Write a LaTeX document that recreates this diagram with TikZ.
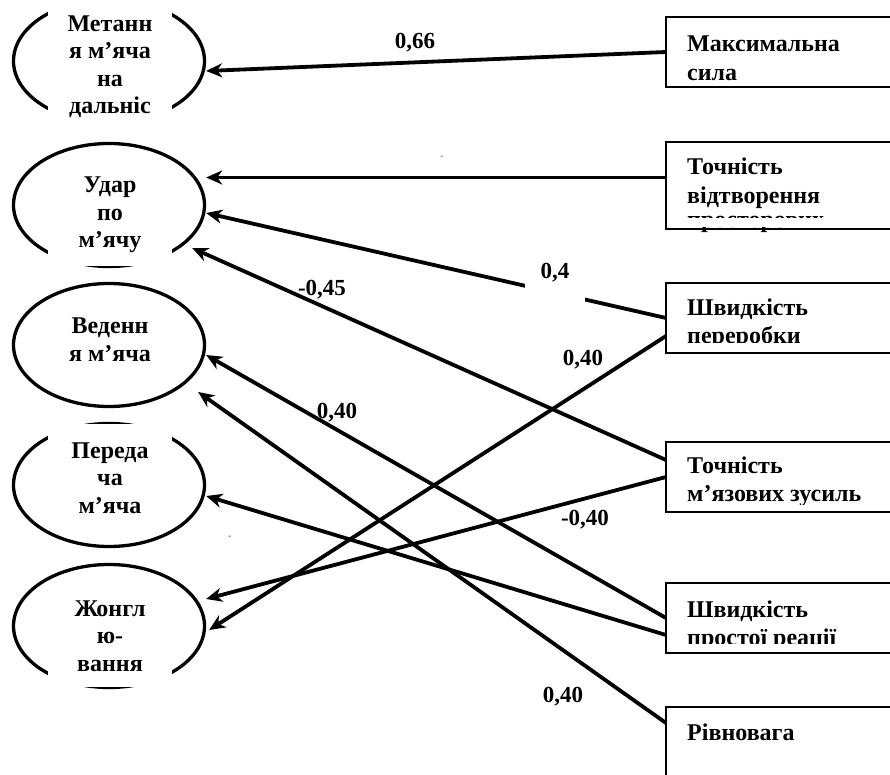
\documentclass[tikz,border=0pt]{standalone}
\usepackage{fontspec}
\setmainfont{Liberation Serif}
\usetikzlibrary{arrows.meta,shapes.geometric}

\begin{document}
\begin{tikzpicture}[x=1pt,y=-1pt,
    effect/.style={ellipse,draw,line width=3.3pt,minimum width=191pt,
                   minimum height=123pt,inner sep=0pt},
    mask/.style={fill=white,minimum width=124pt,inner sep=0pt},
    efftext/.style={align=center,inner sep=0pt,anchor=base,
                    font=\fontsize{24}{27.5}\selectfont\bfseries},
    factor/.style={draw,line width=2.4pt,anchor=north west,minimum width=260pt,
                   minimum height=70pt,inner sep=0pt,outer sep=0pt},
    facttext/.style={align=left,inner sep=0pt,anchor=base west,
                     font=\fontsize{24}{28.5}\selectfont\bfseries},
    coef/.style={inner sep=0pt,font=\fontsize{23}{23}\selectfont\bfseries},
    arr/.style={-{Stealth[length=16pt,width=14pt,inset=5pt]},line width=3.8pt}
  ]
    \useasboundingbox (0,0) rectangle (890,775);
    \clip (0,0) rectangle (890,775);

    \node[effect] (throw)   at (109,61)  {};
    \node[effect] (kick)    at (109,205) {};
    \node[effect] (dribble) at (109,345) {};
    \node[effect] (pass)    at (109,485) {};
    \node[effect] (juggle)  at (109,626) {};

    \node[mask,minimum height=134pt] (throwmask)  at (110,61)    {};
    \node[mask,minimum height=101pt] (kickmask)   at (110,215.5) {};
    \node[mask,minimum height=104pt] (passmask)   at (110,476)   {};
    \node[mask,minimum height=104pt] (jugglemask) at (110,635)   {};

    \node[efftext] (throwtext)   at (110,114) {Метанн\\я м’яча\\на\\дальніс};
    \node[efftext] (kicktext)    at (110,248) {Удар\\по\\м’ячу};
    \node[efftext] (dribbletext) at (110,361) {Веденн\\я м’яча};
    \node[efftext] (passtext)    at (110,513) {Переда\\ча\\м’яча};
    \node[efftext] (juggletext)  at (110,671) {Жонгл\\ю-\\вання};

    \node[factor] (maxforce)                     at (666,17)  {};
    \node[factor,minimum height=87pt] (spacerep) at (666,142) {};
    \node[factor] (procspeed)                    at (666,283) {};
    \node[factor] (musclepr)                     at (666,442) {};
    \node[factor] (reaction)                     at (666,583) {};
    \node[factor] (balance)                      at (666,707) {};

    \node[facttext] (maxforcetext)  at (687,80.5)  {Максимальна\\сила};
    \node[facttext] (spacereptext)  at (687,228)   {Точність\\відтворення\\[-4pt]просторових};
    \node[facttext] (procspeedtext) at (687,343.5) {Швидкість\\переробки};
    \node[facttext] (muscleprtext)  at (687,501.5) {Точність\\м’язових зусиль};
    \node[facttext] (reactiontext)  at (687,645.5) {Швидкість\\простої реації};
    \node[facttext] (balancetext)   at (687,740)   {Рівновага};

    \foreach \b/\h in {spacerep/10.5,procspeed/10,musclepr/7,reaction/9}
      \fill[white] ([shift={(1.5,-1.5)}]\b.south west) rectangle ([shift={(-1.5,-\h)}]\b.south east);

    \draw[arr] (maxforce.west)               -- ([yshift=-10pt]throw.east);
    \draw[arr] ([yshift=8pt]spacerep.west)   -- ([yshift=27.5pt]kick.east);
    \draw[arr] (procspeed.west)              -- ([yshift=-8pt]kick.east);
    \draw[arr] ([yshift=17pt]musclepr.west)  -- ([xshift=-14pt,yshift=-43pt]kick.east);
    \draw[arr] ([yshift=-18pt]procspeed.west) -- ([xshift=3pt,yshift=-4pt]juggle.east);
    \draw[arr] (musclepr.west)               -- ([yshift=27pt]juggle.east);
    \draw[arr] (reaction.west)               -- ([yshift=-10pt]dribble.east);
    \draw[arr] ([yshift=19pt]balance.west)   -- ([xshift=-8pt,yshift=-47pt]dribble.east);
    \draw[arr] ([yshift=-17pt]reaction.west) -- ([yshift=-11pt]pass.east);

    \node[coef] (wmax)   at (415,43)  {0,66};
    \node[coef,fill=white,minimum width=60pt,minimum height=58pt] (wproc) at (555,273) {0,4};
    \node[coef] (wmusk)  at (322,290) {-0,45};
    \node[coef] (wprocj) at (583,360) {0,40};
    \node[coef] (wreact) at (337,413) {0,40};
    \node[coef] (wmuscj) at (585,520) {-0,40};
    \node[coef] (wbal)   at (563,697) {0,40};
    \node[font=\fontsize{8}{8}\selectfont,inner sep=0pt] (dashup)  at (442,157) {-};
    \node[font=\fontsize{8}{8}\selectfont,inner sep=0pt] (dashlow) at (230,537) {-};
\end{tikzpicture}
\end{document}
